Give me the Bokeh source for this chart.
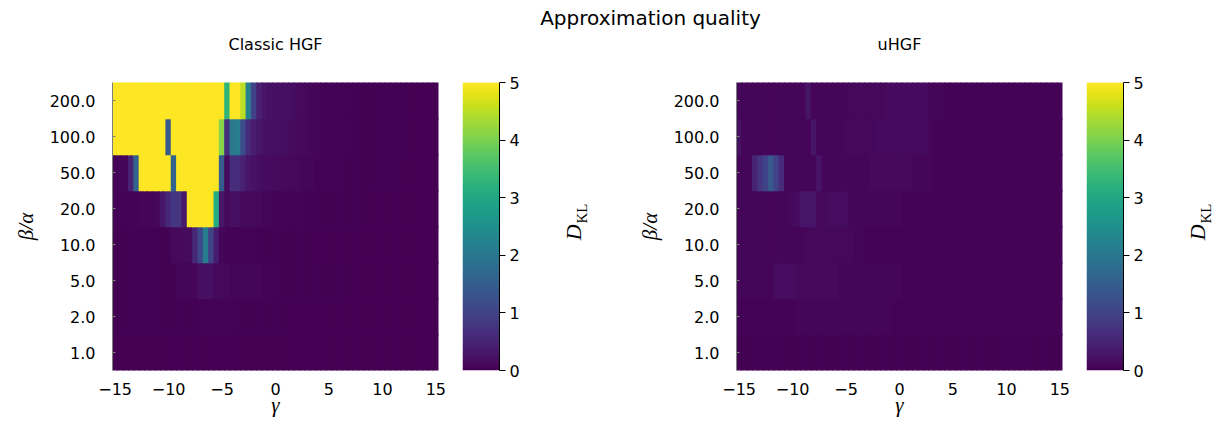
import numpy as np
from bokeh.plotting import figure
from bokeh.layouts import row, column
from bokeh.models import (FactorRange, LinearColorMapper, FixedTicker, Label,
                          ColumnDataSource, Range1d, CustomJSTickFormatter)
from bokeh.palettes import Viridis256
from bokeh.transform import transform
from bokeh.embed import file_html
from bokeh.resources import INLINE
from math import pi

# ---------------- data ----------------
gamma = list(np.arange(-15.0, 15.25, 0.5))           # 61 columns
ratio_labels = ["1.0", "2.0", "5.0", "10.0", "20.0", "50.0", "100.0", "200.0"]
x_ticks = [-15, -10, -5, 0, 5, 10, 15]
cbar_ticks = [0, 1, 2, 3, 4, 5]

classic_200 = [5, 5, 5, 5, 5, 5, 5, 5, 5, 5,
               5, 5, 5, 5, 5, 5, 5, 5, 5, 5,
               5, 3.3, 5, 5, 4.5, 2.2, 1.0, 0.45, 0.3, 0.25,
               0.22, 0.2, 0.2, 0.18, 0.14, 0.12, 0.1, 0.07, 0.06, 0.05,
               0.05, 0.04, 0.04, 0.04, 0.03, 0.03, 0.03, 0.03, 0.02, 0.02,
               0.02, 0.02, 0.02, 0.02, 0.02, 0.01, 0.01, 0.01, 0.01, 0.01,
               0.01]
classic_100 = [5, 5, 5, 5, 5, 5, 5, 5, 5, 5,
               1.4, 5, 5, 5, 5, 5, 5, 5, 5, 5,
               4.1, 0.65, 2.0, 2.1, 1.2, 0.6, 0.4, 0.3, 0.22, 0.2,
               0.2, 0.18, 0.16, 0.15, 0.13, 0.12, 0.1, 0.07, 0.06, 0.05,
               0.05, 0.04, 0.04, 0.04, 0.03, 0.03, 0.03, 0.03, 0.02, 0.02,
               0.02, 0.02, 0.02, 0.02, 0.02, 0.01, 0.01, 0.01, 0.01, 0.01,
               0.01]
classic_50 = [0.05, 0.06, 0.08, 0.5, 1.6, 5, 5, 5, 5, 5,
              5, 1.6, 5, 5, 5, 5, 5, 5, 5, 5,
              1.45, 0.15, 0.65, 0.65, 0.45, 0.3, 0.25, 0.18, 0.15, 0.15,
              0.15, 0.12, 0.1, 0.1, 0.1, 0.08, 0.07, 0.06, 0.05, 0.05,
              0.04, 0.04, 0.04, 0.03, 0.03, 0.03, 0.03, 0.02, 0.02, 0.02,
              0.02, 0.02, 0.02, 0.02, 0.01, 0.01, 0.01, 0.01, 0.01, 0.01,
              0.01]
classic_20 = [0.05, 0.05, 0.05, 0.05, 0.05, 0.06, 0.06, 0.07, 0.1, 0.3,
              0.55, 0.8, 0.8, 0.35, 5, 5, 5, 5, 5, 3.1,
              0.3, 0.1, 0.2, 0.2, 0.12, 0.1, 0.1, 0.1, 0.08, 0.06,
              0.05, 0.05, 0.05, 0.04, 0.04, 0.04, 0.03, 0.03, 0.03, 0.03,
              0.02, 0.02, 0.02, 0.02, 0.02, 0.02, 0.02, 0.01, 0.01, 0.01,
              0.01, 0.01, 0.01, 0.01, 0.01, 0.01, 0.01, 0.01, 0.01, 0.01,
              0.01]
classic_10 = [0.03, 0.03, 0.03, 0.03, 0.03, 0.03, 0.03, 0.03, 0.03, 0.03,
              0.03, 0.1, 0.1, 0.12, 0.15, 0.55, 1.1, 2.1, 1.05, 0.4,
              0.08, 0.05, 0.05, 0.05, 0.04, 0.04, 0.04, 0.03, 0.03, 0.03,
              0.03, 0.02, 0.02, 0.02, 0.02, 0.02, 0.02, 0.01, 0.01, 0.01,
              0.01, 0.01, 0.01, 0.01, 0.01, 0.01, 0.01, 0.01, 0.01, 0.01,
              0.01, 0.01, 0.01, 0.01, 0.01, 0.01, 0.01, 0.01, 0.01, 0.01,
              0.01]
classic_5 = [0.03, 0.03, 0.03, 0.03, 0.03, 0.03, 0.03, 0.03, 0.03, 0.03,
             0.03, 0.03, 0.06, 0.06, 0.06, 0.06, 0.2, 0.22, 0.2, 0.1,
             0.1, 0.1, 0.06, 0.06, 0.06, 0.06, 0.06, 0.06, 0.05, 0.05,
             0.05, 0.03, 0.03, 0.03, 0.03, 0.03, 0.02, 0.02, 0.02, 0.02,
             0.02, 0.02, 0.02, 0.02, 0.01, 0.01, 0.01, 0.01, 0.01, 0.01,
             0.01, 0.01, 0.01, 0.01, 0.01, 0.01, 0.01, 0.01, 0.01, 0.01,
             0.01]
classic_2 = [0.02, 0.02, 0.02, 0.02, 0.02, 0.02, 0.02, 0.02, 0.02, 0.02,
             0.02, 0.02, 0.02, 0.02, 0.02, 0.02, 0.02, 0.05, 0.05, 0.05,
             0.05, 0.05, 0.05, 0.02, 0.02, 0.02, 0.02, 0.02, 0.02, 0.02,
             0.02, 0.02, 0.01, 0.01, 0.01, 0.01, 0.01, 0.01, 0.01, 0.01,
             0.01, 0.01, 0.01, 0.01, 0.01, 0.01, 0.01, 0.01, 0.01, 0.01,
             0.01, 0.01, 0.01, 0.01, 0.01, 0.01, 0.01, 0.01, 0.01, 0.01,
             0.01]
classic_1 = [0.01, 0.01, 0.01, 0.01, 0.01, 0.01, 0.01, 0.01, 0.01, 0.01,
             0.01, 0.01, 0.01, 0.01, 0.01, 0.01, 0.01, 0.01, 0.01, 0.01,
             0.01, 0.01, 0.01, 0.01, 0.01, 0.01, 0.01, 0.01, 0.01, 0.01,
             0.01, 0.01, 0.01, 0.01, 0.01, 0.01, 0.01, 0.01, 0.01, 0.01,
             0.01, 0.01, 0.01, 0.01, 0.01, 0.01, 0.01, 0.01, 0.01, 0.01,
             0.01, 0.01, 0.01, 0.01, 0.01, 0.01, 0.01, 0.01, 0.01, 0.01,
             0.01]

uhgf_200 = [0.06, 0.06, 0.06, 0.06, 0.06, 0.06, 0.07, 0.07, 0.07, 0.07,
            0.07, 0.07, 0.07, 0.28, 0.08, 0.08, 0.08, 0.08, 0.08, 0.08,
            0.08, 0.1, 0.1, 0.1, 0.1, 0.1, 0.1, 0.1, 0.15, 0.15,
            0.15, 0.15, 0.15, 0.15, 0.15, 0.15, 0.08, 0.08, 0.08, 0.04,
            0.04, 0.04, 0.04, 0.04, 0.04, 0.04, 0.04, 0.04, 0.04, 0.04,
            0.04, 0.04, 0.04, 0.04, 0.04, 0.04, 0.04, 0.04, 0.04, 0.04,
            0.04]
uhgf_100 = [0.22, 0.06, 0.06, 0.06, 0.06, 0.06, 0.06, 0.06, 0.07, 0.07,
            0.07, 0.07, 0.07, 0.07, 0.28, 0.07, 0.07, 0.07, 0.07, 0.07,
            0.1, 0.1, 0.1, 0.1, 0.1, 0.1, 0.15, 0.15, 0.15, 0.15,
            0.15, 0.15, 0.15, 0.15, 0.15, 0.15, 0.08, 0.04, 0.04, 0.04,
            0.04, 0.04, 0.04, 0.04, 0.04, 0.04, 0.04, 0.04, 0.04, 0.04,
            0.04, 0.04, 0.04, 0.04, 0.04, 0.04, 0.04, 0.04, 0.04, 0.04,
            0.04]
uhgf_50 = [0.06, 0.06, 0.06, 0.5, 0.8, 1.0, 1.4, 1.0, 0.6, 0.06,
           0.06, 0.06, 0.06, 0.06, 0.06, 0.28, 0.07, 0.07, 0.07, 0.07,
           0.07, 0.07, 0.07, 0.07, 0.07, 0.12, 0.12, 0.12, 0.12, 0.12,
           0.12, 0.12, 0.12, 0.08, 0.08, 0.08, 0.08, 0.04, 0.04, 0.04,
           0.04, 0.04, 0.04, 0.04, 0.04, 0.04, 0.04, 0.04, 0.04, 0.04,
           0.04, 0.04, 0.04, 0.04, 0.04, 0.04, 0.04, 0.04, 0.04, 0.04,
           0.04]
uhgf_20 = [0.06, 0.06, 0.06, 0.06, 0.06, 0.06, 0.06, 0.07, 0.07, 0.07,
           0.12, 0.17, 0.28, 0.28, 0.28, 0.12, 0.12, 0.16, 0.16, 0.16,
           0.16, 0.08, 0.08, 0.08, 0.08, 0.06, 0.06, 0.06, 0.06, 0.06,
           0.06, 0.04, 0.04, 0.04, 0.04, 0.04, 0.04, 0.04, 0.04, 0.04,
           0.04, 0.04, 0.04, 0.04, 0.04, 0.04, 0.04, 0.04, 0.04, 0.04,
           0.04, 0.04, 0.04, 0.04, 0.04, 0.04, 0.04, 0.04, 0.04, 0.04,
           0.04]
uhgf_10 = [0.06, 0.06, 0.06, 0.06, 0.06, 0.06, 0.06, 0.06, 0.06, 0.06,
           0.06, 0.06, 0.06, 0.1, 0.1, 0.1, 0.1, 0.1, 0.1, 0.1,
           0.1, 0.1, 0.07, 0.07, 0.04, 0.04, 0.04, 0.04, 0.04, 0.04,
           0.04, 0.04, 0.04, 0.04, 0.04, 0.04, 0.04, 0.04, 0.04, 0.04,
           0.04, 0.04, 0.04, 0.04, 0.04, 0.04, 0.04, 0.04, 0.04, 0.04,
           0.04, 0.04, 0.04, 0.04, 0.04, 0.04, 0.04, 0.04, 0.04, 0.04,
           0.04]
uhgf_5 = [0.06, 0.07, 0.07, 0.07, 0.09, 0.09, 0.09, 0.16, 0.16, 0.16,
          0.16, 0.12, 0.12, 0.12, 0.12, 0.12, 0.12, 0.12, 0.12, 0.07,
          0.07, 0.07, 0.07, 0.06, 0.06, 0.06, 0.06, 0.06, 0.06, 0.06,
          0.06, 0.04, 0.04, 0.04, 0.04, 0.04, 0.04, 0.04, 0.04, 0.04,
          0.04, 0.04, 0.04, 0.04, 0.04, 0.04, 0.04, 0.04, 0.04, 0.04,
          0.04, 0.04, 0.04, 0.04, 0.04, 0.04, 0.04, 0.04, 0.04, 0.04,
          0.04]
uhgf_2 = [0.04, 0.04, 0.04, 0.04, 0.04, 0.04, 0.04, 0.04, 0.04, 0.04,
          0.04, 0.08, 0.08, 0.08, 0.08, 0.08, 0.08, 0.08, 0.08, 0.08,
          0.08, 0.08, 0.06, 0.06, 0.06, 0.06, 0.06, 0.06, 0.06, 0.04,
          0.04, 0.04, 0.04, 0.04, 0.04, 0.04, 0.04, 0.04, 0.04, 0.04,
          0.04, 0.04, 0.04, 0.04, 0.04, 0.04, 0.04, 0.04, 0.04, 0.04,
          0.04, 0.04, 0.04, 0.04, 0.04, 0.04, 0.04, 0.04, 0.04, 0.04,
          0.04]
uhgf_1 = [0.03, 0.03, 0.03, 0.03, 0.03, 0.03, 0.03, 0.03, 0.03, 0.03,
          0.03, 0.03, 0.03, 0.03, 0.03, 0.03, 0.03, 0.03, 0.03, 0.03,
          0.03, 0.03, 0.03, 0.03, 0.03, 0.03, 0.03, 0.03, 0.03, 0.03,
          0.03, 0.03, 0.03, 0.03, 0.03, 0.03, 0.03, 0.03, 0.03, 0.03,
          0.03, 0.03, 0.03, 0.03, 0.03, 0.03, 0.03, 0.03, 0.03, 0.03,
          0.03, 0.03, 0.03, 0.03, 0.03, 0.03, 0.03, 0.03, 0.03, 0.03,
          0.03]

classic_rows = [classic_1, classic_2, classic_5, classic_10,
                classic_20, classic_50, classic_100, classic_200]
uhgf_rows = [uhgf_1, uhgf_2, uhgf_5, uhgf_10,
             uhgf_20, uhgf_50, uhgf_100, uhgf_200]

main_title = "Approximation quality"
titles = ["Classic HGF", "uHGF"]

# ---------------- styling ----------------
SANS = "DejaVu Sans"
SERIF = "Liberation Serif"
TICK_FS = "16px"
mapper = LinearColorMapper(palette=Viridis256, low=0, high=5)
minus_fmt = CustomJSTickFormatter(code="return tick < 0 ? '\u2212' + Math.abs(tick) : String(tick);")

FIG_H = 354
TOP, BOT = 12, 54


def make_source(rows):
    xs, ys, vs = [], [], []
    for lab, vals in zip(ratio_labels, rows):
        for g, v in zip(gamma, vals):
            xs.append(float(g))
            ys.append(lab)
            vs.append(float(v))
    return ColumnDataSource(dict(x=xs, y=ys, v=vs))


def heatmap(rows, width, left, right):
    p = figure(width=width, height=FIG_H, x_range=Range1d(-15.25, 15.25),
               y_range=FactorRange(*ratio_labels), output_backend="svg",
               toolbar_location=None, min_border_left=left, min_border_right=right,
               min_border_top=TOP, min_border_bottom=BOT)
    # slightly oversized cells so neighbouring cells overlap (no seams)
    p.rect(x="x", y="y", width=0.6, height=1.04, source=make_source(rows),
           fill_color=transform("v", mapper), line_color=None)
    p.outline_line_color = None
    p.grid.visible = False
    xa = p.xaxis[0]
    xa.ticker = FixedTicker(ticks=x_ticks)
    xa.formatter = minus_fmt
    xa.axis_line_color = None
    xa.major_tick_line_color = None
    xa.minor_tick_line_color = None
    xa.major_label_standoff = 6
    xa.major_label_text_font = SANS
    xa.major_label_text_font_size = TICK_FS
    xa.major_label_text_color = "black"
    xa.axis_label = "γ"
    xa.axis_label_text_font = SERIF
    xa.axis_label_text_font_style = "italic"
    xa.axis_label_text_font_size = "21px"
    xa.axis_label_text_color = "black"
    xa.axis_label_standoff = -5
    ya = p.yaxis[0]
    ya.axis_line_color = "#7f7f7f"
    ya.major_tick_line_color = "#7f7f7f"
    ya.major_tick_in = 3
    ya.major_tick_out = 0
    ya.major_label_standoff = 17
    ya.major_label_text_font = SANS
    ya.major_label_text_font_size = TICK_FS
    ya.major_label_text_color = "black"
    ya.axis_label = "β/α"
    ya.axis_label_text_font = SERIF
    ya.axis_label_text_font_style = "italic"
    ya.axis_label_text_font_size = "21px"
    ya.axis_label_text_color = "black"
    ya.axis_label_standoff = 9
    return p


def colorbar(width, left, right):
    p = figure(width=width, height=FIG_H, x_range=Range1d(0, 1), y_range=Range1d(0, 5),
               output_backend="svg", toolbar_location=None, y_axis_location="right",
               min_border_left=left, min_border_right=right,
               min_border_top=TOP, min_border_bottom=BOT)
    grad = np.linspace(0, 5, 256).reshape(256, 1)
    p.image(image=[grad], x=0, y=0, dw=1, dh=5, color_mapper=mapper)
    p.outline_line_color = None
    p.grid.visible = False
    p.xaxis.visible = False
    ya = p.yaxis[0]
    ya.ticker = FixedTicker(ticks=cbar_ticks)
    ya.axis_line_color = "black"
    ya.major_tick_line_color = "black"
    ya.minor_tick_line_color = None
    ya.major_tick_in = 0
    ya.major_tick_out = 6
    ya.major_label_standoff = 4
    ya.major_label_text_font = SANS
    ya.major_label_text_font_size = TICK_FS
    ya.major_label_text_color = "black"
    return p


def label_panel(width, x_d):
    p = figure(width=width, height=FIG_H, x_range=Range1d(0, width),
               y_range=Range1d(0, FIG_H), output_backend="svg",
               toolbar_location=None, min_border=0)
    p.axis.visible = False
    p.grid.visible = False
    p.outline_line_color = None
    p.add_layout(Label(x=x_d, y=170, text="D", angle=pi / 2,
                       text_align="center", text_baseline="middle",
                       text_font=SERIF, text_font_style="italic",
                       text_font_size="22px", text_color="black"))
    p.add_layout(Label(x=x_d + 8, y=193, text="KL", angle=pi / 2,
                       text_align="center", text_baseline="middle",
                       text_font=SERIF, text_font_size="15px", text_color="black"))
    return p


# ---------------- title strip ----------------
tf = figure(width=1215, height=70, x_range=Range1d(0, 1215), y_range=Range1d(0, 70),
            output_backend="svg", toolbar_location=None, min_border=0)
tf.axis.visible = False
tf.grid.visible = False
tf.outline_line_color = None
tf.add_layout(Label(x=650, y=53, text=main_title, text_align="center",
                    text_baseline="middle", text_font=SANS,
                    text_font_size="20px", text_color="black"))
tf.add_layout(Label(x=275, y=26, text=titles[0], text_align="center",
                    text_baseline="middle", text_font=SANS,
                    text_font_size="16px", text_color="black"))
tf.add_layout(Label(x=899, y=26, text=titles[1], text_align="center",
                    text_baseline="middle", text_font=SANS,
                    text_font_size="16px", text_color="black"))

h1 = heatmap(classic_rows, 450, 112, 12)
c1 = colorbar(90, 12, 41)
l1 = label_panel(80, 33)
h2 = heatmap(uhgf_rows, 454, 116, 12)
c2 = colorbar(90, 12, 41)
l2 = label_panel(51, 33)

layout = column(tf, row(h1, c1, l1, h2, c2, l2, spacing=0), spacing=0)

open("out.html", "w").write(file_html(layout, INLINE))
